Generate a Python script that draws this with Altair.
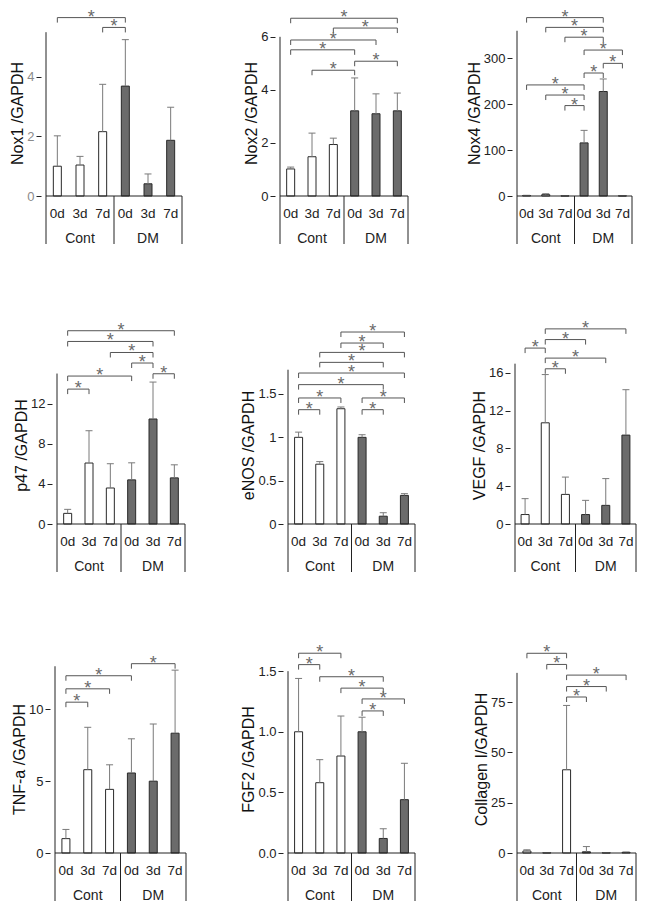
import altair as alt
import pandas as pd

DAYS = ["0d", "3d", "7d", "0d", "3d", "7d"]
GROUP_OF_BAR = ["Cont", "Cont", "Cont", "DM", "DM", "DM"]
GROUPS = ["Cont", "DM"]

# mean and upper error (SD) of each bar: Cont 0d,3d,7d, DM 0d,3d,7d
nox1_mean = [1.00, 1.04, 2.16, 3.69, 0.41, 1.87]
nox1_sd = [1.02, 0.29, 1.59, 1.56, 0.33, 1.11]
nox2_mean = [1.02, 1.48, 1.94, 3.21, 3.10, 3.21]
nox2_sd = [0.07, 0.89, 0.24, 1.24, 0.75, 0.67]
nox4_mean = [1.0, 3.0, 0.3, 115.7, 227.7, 0.3]
nox4_sd = [0.5, 2.0, 0.2, 27.3, 27.3, 0.2]
p47_mean = [1.06, 6.08, 3.59, 4.40, 10.47, 4.60]
p47_sd = [0.40, 3.22, 2.42, 1.70, 3.68, 1.30]
enos_mean = [1.00, 0.69, 1.33, 1.00, 0.09, 0.33]
enos_sd = [0.06, 0.03, 0.02, 0.03, 0.04, 0.02]
vegf_mean = [1.00, 10.70, 3.13, 1.00, 1.97, 9.40]
vegf_sd = [1.68, 5.10, 1.83, 1.50, 2.83, 4.80]
tnfa_mean = [1.00, 5.80, 4.43, 5.57, 5.00, 8.34]
tnfa_sd = [0.64, 2.95, 1.71, 2.38, 3.98, 4.39]
fgf2_mean = [1.00, 0.58, 0.80, 1.00, 0.12, 0.44]
fgf2_sd = [0.44, 0.19, 0.33, 0.12, 0.08, 0.30]
col1_mean = [1.0, 0.1, 41.4, 0.6, 0.1, 0.3]
col1_sd = [0.6, 0.05, 32.0, 2.6, 0.05, 0.2]

# significant comparisons (bar i vs bar j)
nox1_sig = [(0, 3), (2, 3)]
nox2_sig = [(0, 5), (2, 5), (0, 4), (0, 3), (3, 5), (1, 3)]
nox4_sig = [(0, 4), (1, 4), (2, 4), (3, 5), (4, 5), (3, 4), (0, 3), (1, 3), (2, 3)]
p47_sig = [(0, 5), (0, 4), (2, 4), (3, 4), (4, 5), (0, 3), (0, 1)]
enos_sig = [(2, 5), (2, 4), (1, 5), (1, 4), (0, 5), (0, 4), (0, 2), (3, 5), (0, 1), (3, 4)]
vegf_sig = [(1, 5), (1, 3), (0, 1), (1, 4), (1, 2)]
tnfa_sig = [(3, 5), (0, 3), (0, 2), (0, 1)]
fgf2_sig = [(0, 2), (0, 1), (1, 4), (2, 4), (3, 5), (3, 4)]
col1_sig = [(0, 2), (1, 2), (2, 5), (2, 4), (2, 3)]

# layout: bracket heights (data units), axis settings, panel sizes
R1 = dict(span=170, H=166)
R2 = dict(span=158, H=158)
R3 = dict(span=192, H=188)
LAYOUT = {
    "nox1": dict(title="Nox1 /GAPDH", ticks=[0, 2, 4], fmt="d", ppu=30.5, top=5.5,
                 lv=[5.99, 5.66], W=146, lab="#8a8a8a", **R1),
    "nox2": dict(title="Nox2 /GAPDH", ticks=[0, 2, 4, 6], fmt="d", ppu=27.17, top=6,
                 lv=[6.70, 6.33, 5.88, 5.51, 5.08, 4.74], W=138, lab="#222", **R1),
    "nox4": dict(title="Nox4 /GAPDH", ticks=[0, 100, 200, 300], fmt="d", ppu=0.47, top=360,
                 lv=[388.7, 367.4, 346, 318, 289, 268, 242, 220, 197], W=125, lab="#222", **R1),
    "p47": dict(title="p47 /GAPDH", ticks=[0, 4, 8, 12], fmt="d", ppu=10.03, top=15,
                lv=[19.27, 18.2, 17.1, 16.05, 14.98, 14.75, 13.45], W=138, lab="#222", **R2),
    "enos": dict(title="eNOS /GAPDH", ticks=[0, 0.5, 1, 1.5], fmt="~g", ppu=86.67, top=1.78,
                 lv=[2.215, 2.088, 1.98, 1.865, 1.742, 1.608, 1.454, 1.454, 1.319, 1.319],
                 W=137, lab="#222", **R2),
    "vegf": dict(title="VEGF /GAPDH", ticks=[0, 4, 8, 12, 16], fmt="d", ppu=9.458, top=16.95,
                 lv=[20.63, 19.5, 18.6, 17.54, 16.41], W=131, lab="#222", **R2),
    "tnfa": dict(title="TNF-a /GAPDH", ticks=[0, 5, 10], fmt="d", ppu=14.67, top=13,
                 lv=[13.18, 12.34, 11.43, 10.5], W=141, lab="#222", **R3),
    "fgf2": dict(title="FGF2 /GAPDH", ticks=[0, 0.5, 1, 1.5], fmt=".1f", ppu=123.8, top=1.5,
                 lv=[1.648, 1.554, 1.454, 1.36, 1.271, 1.172], W=137, lab="#222", **R3),
    "col1": dict(title="Collagen I/GAPDH", ticks=[0, 25, 50, 75], fmt="d", ppu=2.053, top=89.6,
                 lv=[99.35, 93.8, 88.5, 82.8, 77.6], W=129, lab="#222", **R3),
}

FONT = "Liberation Sans"
LINE = "#222"


def anchor_layer(points):
    df = pd.DataFrame({"z": [0]})
    return [alt.Chart(df).mark_point(opacity=0, size=1, filled=True, strokeWidth=0).encode(
        x=alt.value(px), y=alt.value(py)) for px, py in points]


def panel(mean, sd, sig, L, anchors=()):
    W, H = L["W"], L["H"]
    xs = alt.Scale(domain=[-0.5, 5.5], nice=False, zero=False)
    ys = alt.Scale(domain=[0, L["span"] / L["ppu"]], nice=False, zero=False)
    yaxis = alt.Axis(values=L["ticks"], format=L["fmt"], domain=False, grid=False,
                     ticks=True, tickSize=5, tickColor=LINE, labelColor=L["lab"],
                     labelFontSize=13, labelPadding=2, labelFont=FONT,
                     title=L["title"], titleFontSize=16, titleFontWeight="normal",
                     titleColor="#111", titlePadding=1, titleFont=FONT)

    def X(f):
        return alt.X(f, type="quantitative", scale=xs, axis=None)

    def Y(f):
        return alt.Y(f, type="quantitative", scale=ys, axis=yaxis)

    bars = pd.DataFrame({
        "i": list(range(6)), "m": mean,
        "t": [m + s for m, s in zip(mean, sd)],
        "g": GROUP_OF_BAR, "d": DAYS,
    })
    layers = []
    layers.append(alt.Chart(bars).mark_bar(orient="vertical", size=8, stroke="#2a2a2a", strokeWidth=1).encode(
        x=X("i"),
        y=alt.Y("m", type="quantitative", scale=ys, axis=yaxis, stack=False),
        fill=alt.Fill("g:N", scale=alt.Scale(domain=GROUPS, range=["#ffffff", "#6b6b6b"]), legend=None),
    ))
    layers.append(alt.Chart(bars).mark_rule(color="#7a7a7a", strokeWidth=1).encode(
        x=X("i"), y=Y("m"), y2=alt.Y2("t")))
    layers.append(alt.Chart(bars).mark_rule(color="#7a7a7a", strokeWidth=1, xOffset=-3.5, x2Offset=3.5).encode(
        x=X("i"), x2=alt.X2("i"), y=Y("t")))

    # y axis line, baseline and category box lines
    layers.append(alt.Chart(pd.DataFrame({"x": [-0.5], "y0": [0], "y1": [L["top"]]})).mark_rule(
        color=LINE, strokeWidth=1).encode(x=X("x"), y=Y("y0"), y2=alt.Y2("y1")))
    layers.append(alt.Chart(pd.DataFrame({"x0": [-0.5], "x1": [5.5], "y": [0]})).mark_rule(
        color=LINE, strokeWidth=1).encode(x=X("x0"), x2=alt.X2("x1"), y=Y("y")))
    layers.append(alt.Chart(pd.DataFrame({"x": [-0.5, 2.5, 5.5]})).mark_rule(
        color=LINE, strokeWidth=1).encode(x=X("x"), y=alt.value(H), y2=alt.value(H + 48)))
    layers.append(alt.Chart(bars).mark_text(fontSize=13.5, color="#222", baseline="middle", font=FONT).encode(
        x=X("i"), y=alt.value(H + 18), text="d:N"))
    layers.append(alt.Chart(pd.DataFrame({"x": [1, 4], "g": GROUPS})).mark_text(
        fontSize=14, color="#222", baseline="middle", font=FONT).encode(
        x=X("x"), y=alt.value(H + 43), text="g:N"))

    # significance brackets
    br = pd.DataFrame({
        "i": [a for a, b in sig], "j": [b for a, b in sig], "lv": L["lv"],
        "mid": [(a + b) / 2 for a, b in sig],
    })
    ends = pd.DataFrame({
        "p": [a for a, b in sig] + [b for a, b in sig],
        "lv": L["lv"] + L["lv"],
    })
    layers.append(alt.Chart(br).mark_rule(color="#555", strokeWidth=1).encode(
        x=X("i"), x2=alt.X2("j"), y=Y("lv")))
    layers.append(alt.Chart(ends).mark_rule(color="#555", strokeWidth=1, y2Offset=5).encode(
        x=X("p"), y=Y("lv"), y2=alt.Y2("lv")))
    layers.append(alt.Chart(br).mark_text(text="*", fontSize=18, color="#6a6a6a", baseline="alphabetic",
                                          dy=5, font=FONT).encode(x=X("mid"), y=Y("lv")))
    layers += anchor_layer(anchors)
    return alt.layer(*layers).properties(width=W, height=H)


def spacer(w, anchors=()):
    base = alt.Chart(pd.DataFrame({"z": [0]})).mark_point(opacity=0, size=1, filled=True, strokeWidth=0).encode(
        x=alt.value(0), y=alt.value(0))
    return alt.layer(base, *anchor_layer(anchors)).properties(width=w, height=10)


p_nox1 = panel(nox1_mean, nox1_sd, nox1_sig, LAYOUT["nox1"], anchors=[(-32.5, -20.5), (-32.5, 250.5)])
p_nox2 = panel(nox2_mean, nox2_sd, nox2_sig, LAYOUT["nox2"])
p_nox4 = panel(nox4_mean, nox4_sd, nox4_sig, LAYOUT["nox4"])
p_p47 = panel(p47_mean, p47_sd, p47_sig, LAYOUT["p47"])
p_enos = panel(enos_mean, enos_sd, enos_sig, LAYOUT["enos"])
p_vegf = panel(vegf_mean, vegf_sd, vegf_sig, LAYOUT["vegf"])
p_tnfa = panel(tnfa_mean, tnfa_sd, tnfa_sig, LAYOUT["tnfa"])
p_fgf2 = panel(fgf2_mean, fgf2_sd, fgf2_sig, LAYOUT["fgf2"])
p_col1 = panel(col1_mean, col1_sd, col1_sig, LAYOUT["col1"])

row1 = alt.hconcat(p_nox1, spacer(88), p_nox2, spacer(99), p_nox4, spacing=0, bounds="flush")
row2 = alt.hconcat(spacer(11, [(-32.5, -84.5), (-32.5, 234.5)]), p_p47, spacer(93), p_enos, spacer(90),
                   p_vegf, spacing=0, bounds="flush")
row3 = alt.hconcat(spacer(9, [(-32.5, -63.5), (-32.5, 236.5)]), p_tnfa, spacer(92), p_fgf2, spacer(92),
                   p_col1, spacing=0, bounds="flush")

chart = alt.vconcat(row1, row2, row3, spacing=0).properties(padding=0).configure(
    font=FONT).configure_view(stroke=None)

chart.save("out.html", embed_options={"renderer": "svg", "actions": False})
